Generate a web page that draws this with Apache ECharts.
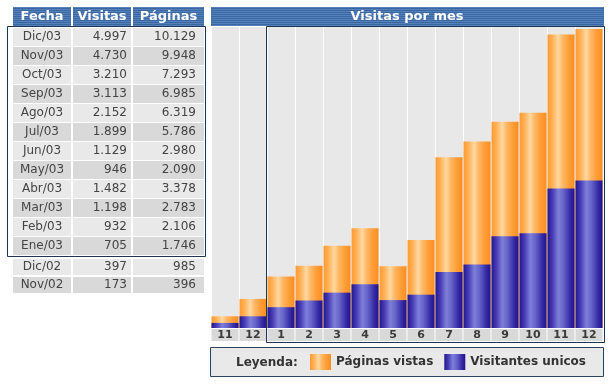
<!DOCTYPE html>
<html>
<head>
<meta charset="utf-8">
<script src="https://cdn.jsdelivr.net/npm/echarts@6/dist/echarts.min.js"></script>
<style>
html,body{margin:0;padding:0;background:#fff;}
#c{width:614px;height:387px;}
</style>
</head>
<body>
<div id="c"></div>
<script>
// ---- data (table order: newest first) ----
const fechas  = ['Dic/03','Nov/03','Oct/03','Sep/03','Ago/03','Jul/03','Jun/03','May/03','Abr/03','Mar/03','Feb/03','Ene/03','Dic/02','Nov/02'];
const visitas = [4997,4730,3210,3113,2152,1899,1129,946,1482,1198,932,705,397,173];
const paginas = [10129,9948,7293,6985,6319,5786,2980,2090,3378,2783,2106,1746,985,396];
// x tick labels (chronological)
const mesLabels = ['11','12','1','2','3','4','5','6','7','8','9','10','11','12'];
const headers = ['Fecha','Visitas','Páginas'];
const titulo = 'Visitas por mes';
const serieNames = ['Páginas vistas','Visitantes unicos'];

const cats = fechas.slice().reverse();
const visChron = visitas.slice().reverse();
const pagChron = paginas.slice().reverse();

function fmt(n){ return String(n).replace(/\B(?=(\d{3})+(?!\d))/g,'.'); }

// striped header pattern
const pc = document.createElement('canvas');
pc.width = 4; pc.height = 2;
const pctx = pc.getContext('2d');
pctx.fillStyle = '#3a67a2'; pctx.fillRect(0,0,4,1);
pctx.fillStyle = '#5581ba'; pctx.fillRect(0,1,4,1);

const FONT = '"DejaVu Sans", Verdana, sans-serif';
const graphics = [];

// table header
const colX = [[13,71],[73,131],[133,204]];
colX.forEach((c,j)=>{
  graphics.push({type:'rect', shape:{x:c[0],y:7,width:c[1]-c[0],height:19}, style:{fill:{image:pc,repeat:'repeat'}}});
  graphics.push({type:'text', x:(c[0]+c[1])/2, y:17, style:{text:headers[j], fill:'#fff', font:'bold 13px '+FONT, align:'center', verticalAlign:'middle'}});
});
// table rows
for(let i=0;i<fechas.length;i++){
  const y0 = i<12 ? 28 + i*19 : 259 + (i-12)*18;
  const h = i<12 ? 18 : 16;
  const fill = i%2===0 ? '#e9e9e9' : '#d9d9d9';
  colX.forEach(c=>{
    graphics.push({type:'rect', shape:{x:c[0],y:y0,width:c[1]-c[0],height:h}, style:{fill:fill}});
  });
  const ym = y0 + h/2;
  const ts = {fill:'#444', font:'12px '+FONT, verticalAlign:'middle'};
  graphics.push({type:'text', x:42, y:ym, style:Object.assign({text:fechas[i], align:'center'},ts)});
  graphics.push({type:'text', x:127, y:ym, style:Object.assign({text:fmt(visitas[i]), align:'right'},ts)});
  graphics.push({type:'text', x:196, y:ym, style:Object.assign({text:fmt(paginas[i]), align:'right'},ts)});
}
// table border around 2003 rows
graphics.push({type:'rect', shape:{x:7.5,y:26.5,width:198,height:230}, style:{fill:null, stroke:'#1d3654', lineWidth:1}, z:10});

// chart header
graphics.push({type:'rect', shape:{x:211,y:7,width:393,height:19}, style:{fill:{image:pc,repeat:'repeat'}}});
graphics.push({type:'text', x:407, y:17, style:{text:titulo, fill:'#fff', font:'bold 13px '+FONT, align:'center', verticalAlign:'middle'}});
// chart border around 2003 months
graphics.push({type:'rect', shape:{x:266.5,y:26.5,width:338,height:316}, style:{fill:null, stroke:'#1d3654', lineWidth:1}, z:10});
// legend box
graphics.push({type:'rect', shape:{x:210.5,y:347.5,width:393,height:29}, style:{fill:'#e9e9e9', stroke:'#2a4564', lineWidth:1}, z:-1});
graphics.push({type:'text', x:236, y:363, style:{text:'Leyenda:', fill:'#333', font:'bold 12px '+FONT, verticalAlign:'middle'}});

const orange = {type:'linear',x:0,y:0,x2:1,y2:0,colorStops:[
  {offset:0,color:'#ff9a30'},{offset:0.2,color:'#ffb35c'},{offset:0.4,color:'#ffd8a0'},
  {offset:0.55,color:'#ffb868'},{offset:0.8,color:'#ff9c35'},{offset:1,color:'#f88e22'}]};
const blue = {type:'linear',x:0,y:0,x2:1,y2:0,colorStops:[
  {offset:0,color:'#24168e'},{offset:0.2,color:'#4a40b8'},{offset:0.4,color:'#7f7fda'},
  {offset:0.6,color:'#6462c8'},{offset:0.85,color:'#3428a4'},{offset:1,color:'#22138a'}]};

const chart = echarts.init(document.getElementById('c'), null, {renderer:'canvas'});
chart.setOption({
  animation:false,
  backgroundColor:'#fff',
  grid:{left:211, top:27, width:392, height:301, show:true, backgroundColor:'#e8e8e8', borderWidth:0},
  xAxis:{type:'category', data:cats, boundaryGap:true,
    axisLine:{show:false}, axisTick:{show:false},
    splitLine:{show:true, lineStyle:{color:'#ffffff', width:1}},
    axisLabel:{interval:0, margin:1, formatter:(v,i)=>mesLabels[i],
      backgroundColor:'#d9d9d9', width:27, height:12, lineHeight:12, align:'center', verticalAlign:'top',
      color:'#3a3a3a', fontFamily:FONT, fontWeight:'bold', fontSize:11}},
  yAxis:{type:'value', min:0, max:10200, show:false, splitLine:{show:false}},
  legend:{left:310, top:354, padding:0, itemWidth:21, itemHeight:16, itemGap:11, icon:'rect',
    textStyle:{fontFamily:FONT, fontWeight:'bold', fontSize:12, color:'#333'},
    data:serieNames},
  series:[
    {name:serieNames[0], type:'bar', data:pagChron, barWidth:27, barGap:'-100%', itemStyle:{color:orange}},
    {name:serieNames[1], type:'bar', data:visChron, barWidth:27, barGap:'-100%', itemStyle:{color:blue}}
  ],
  graphic:graphics
});
</script>
</body>
</html>
